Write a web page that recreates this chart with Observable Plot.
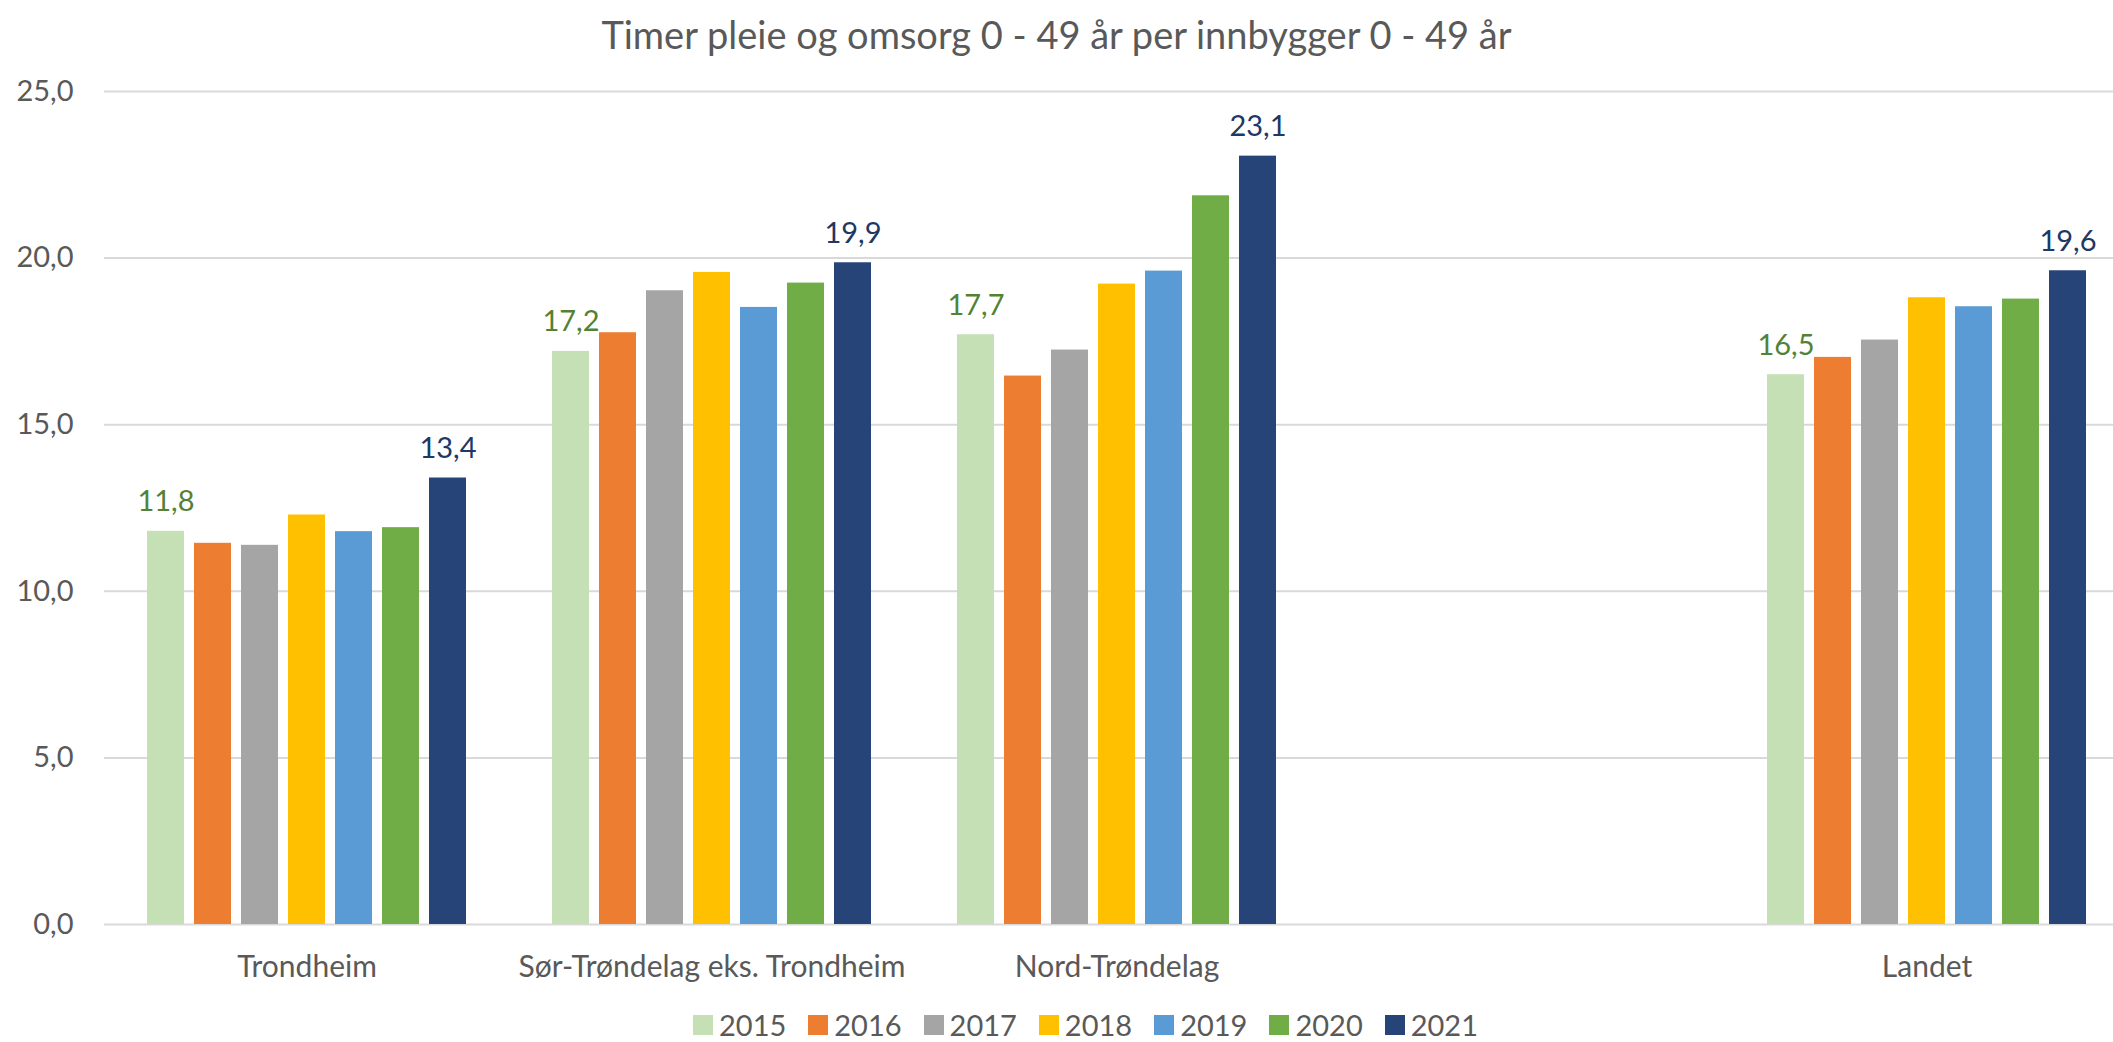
<!DOCTYPE html>
<html>
<head>
<meta charset="utf-8">
<script src="https://cdn.jsdelivr.net/npm/d3@7"></script>
<script src="https://cdn.jsdelivr.net/npm/@observablehq/plot@0.6"></script>
<style>
  html, body { margin: 0; padding: 0; background: #fff; }
  #wrap { position: relative; width: 2113px; height: 1042px; overflow: hidden; font-family: Lato, "Open Sans", sans-serif; color: #595959; }
  #title { position: absolute; top: 12px; left: 0; width: 2113px; text-align: center; font-size: 38px; line-height: 44px; color: #595959; }
  #chart { position: absolute; top: 70px; left: 0; }
  #legend { position: absolute; top: 1010px; left: 0; width: 2113px; box-sizing: border-box; padding-left: 58px; display: flex; justify-content: center; align-items: center; font-size: 29px; line-height: 30px; color: #595959; }
  .item { display: flex; align-items: center; margin: 0 11px; }
  .sw { width: 20px; height: 20px; margin-right: 6px; }
</style>
</head>
<body>
<div id="wrap">
  <div id="title">Timer pleie og omsorg 0 - 49 år per innbygger 0 - 49 år</div>
  <div id="chart"></div>
  <div id="legend"></div>
</div>
<script>
// ---- data ----
const categories = ["Trondheim", "Sør-Trøndelag eks. Trondheim", "Nord-Trøndelag", " ", "Landet"];
const years = ["2015", "2016", "2017", "2018", "2019", "2020", "2021"];
const colors = ["#C5E0B4", "#ED7D31", "#A5A5A5", "#FFC000", "#5B9BD5", "#70AD47", "#264478"];
const trondheim = [11.8, 11.44, 11.38, 12.29, 11.79, 11.91, 13.4];
const sorTrondelag = [17.2, 17.76, 19.02, 19.57, 18.52, 19.25, 19.86];
const nordTrondelag = [17.7, 16.46, 17.24, 19.22, 19.61, 21.87, 23.06];
const landet = [16.5, 17.02, 17.54, 18.81, 18.54, 18.77, 19.62];
const yTicks = [0, 5, 10, 15, 20, 25];

const series = [
  ["Trondheim", trondheim],
  ["Sør-Trøndelag eks. Trondheim", sorTrondelag],
  ["Nord-Trøndelag", nordTrondelag],
  ["Landet", landet]
];
const rows = series.flatMap(([cat, vals]) => vals.map((v, i) => ({cat, year: years[i], value: v})));
const gridRows = categories.flatMap(cat => yTicks.map(tick => ({cat, tick})));
const fmt = d => d.toFixed(1).replace(".", ",");

const chart = Plot.plot({
  width: 2113,
  height: 930,
  marginLeft: 103,
  marginRight: -17,
  marginTop: 21,
  marginBottom: 76,
  style: {fontFamily: "Lato, 'Open Sans', sans-serif", fontSize: "29px", color: "#595959", background: "#fff", overflow: "visible"},
  fx: {domain: categories, paddingInner: 0, paddingOuter: 0, label: null},
  x: {domain: years, axis: null, paddingInner: 0.22, paddingOuter: 0.877},
  y: {domain: [0, 25], label: null},
  color: {domain: years, range: colors},
  marks: [
    Plot.ruleY(gridRows, {fx: "cat", y: "tick", stroke: "#d9d9d9", strokeWidth: 2}),
    Plot.axisY({ticks: yTicks, tickFormat: fmt, tickSize: 0, tickPadding: 31, fontSize: 29, label: null, fill: "#595959"}),
    Plot.axisFx({anchor: "bottom", tickSize: 0, tickPadding: 31, fontSize: 30, label: null, fill: "#595959"}),
    Plot.barY(rows, {fx: "cat", x: "year", y: "value", fill: "year"}),
    Plot.text(rows.filter(d => d.year === "2015"), {fx: "cat", x: "year", y: "value", text: d => fmt(d.value), fill: "#548235", lineAnchor: "bottom", dy: -20, fontSize: 29}),
    Plot.text(rows.filter(d => d.year === "2021"), {fx: "cat", x: "year", y: "value", text: d => fmt(d.value), fill: "#203864", lineAnchor: "bottom", dy: -20, fontSize: 29})
  ]
});
document.getElementById("chart").appendChild(chart);

const legend = document.getElementById("legend");
years.forEach((y, i) => {
  const it = document.createElement("div");
  it.className = "item";
  const sw = document.createElement("div");
  sw.className = "sw";
  sw.style.background = colors[i];
  const tx = document.createElement("span");
  tx.textContent = y;
  it.appendChild(sw);
  it.appendChild(tx);
  legend.appendChild(it);
});
</script>
</body>
</html>
